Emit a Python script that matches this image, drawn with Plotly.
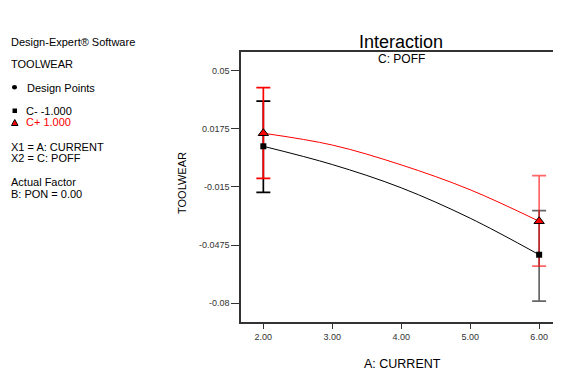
import plotly.graph_objects as go

# ---- data ----
current_curve = [2.0, 3.0, 4.0, 5.0, 6.0]
toolwear_c_minus = [0.0077, -0.0025, -0.0155, -0.0325, -0.0529]
toolwear_c_plus = [0.0150, 0.0084, -0.0027, -0.0166, -0.0342]

design_x = [2.0, 6.0]
design_c_minus = [0.0077, -0.0529]
design_c_plus = [0.0150, -0.0342]
err_minus_up = [0.0252, 0.0246]
err_minus_dn = [0.0258, 0.0259]
err_plus_up = [0.0255, 0.0255]
err_plus_dn = [0.0252, 0.0251]

y_ticks = [-0.08, -0.0475, -0.015, 0.0175, 0.05]
y_tick_labels = ["-0.08", "-0.0475", "-0.015", "0.0175", "0.05"]
x_ticks = [2, 3, 4, 5, 6]
x_tick_labels = ["2.00", "3.00", "4.00", "5.00", "6.00"]

# page body has an 8px margin; build the figure 8px smaller and shift coords
OFF = 8
W, H = 561 - OFF, 376 - OFF
L, R, T, B = 241 - OFF, 0, 52 - OFF, 62 - OFF
PW, PH = W - L - R, H - T - B
FONT = "Liberation Sans, Arial, sans-serif"


def px(x):
    return (x - OFF - L) / PW


def py(y):
    return (H - B - (y - OFF)) / PH


fig = go.Figure()

# error bars (drawn first)
for idx, alpha in [(0, 1.0), (1, 0.6)]:
    for vals, up, dn, rgb in [
        (design_c_minus, err_minus_up, err_minus_dn, "0,0,0"),
        (design_c_plus, err_plus_up, err_plus_dn, "255,0,0"),
    ]:
        fig.add_trace(go.Scatter(
            x=[design_x[idx]], y=[vals[idx]], mode="markers",
            marker=dict(size=1, color="rgba(0,0,0,0)"),
            error_y=dict(type="data", symmetric=False, array=[up[idx]],
                         arrayminus=[dn[idx]], color=f"rgba({rgb},{alpha})",
                         thickness=1.7, width=7),
            showlegend=False, hoverinfo="skip"))

# curves
fig.add_trace(go.Scatter(x=current_curve, y=toolwear_c_minus, mode="lines",
                         line=dict(color="#000000", width=1, shape="spline"),
                         showlegend=False))
fig.add_trace(go.Scatter(x=current_curve, y=toolwear_c_plus, mode="lines",
                         line=dict(color="#ff0000", width=1, shape="spline"),
                         showlegend=False))

# design point markers
fig.add_trace(go.Scatter(x=design_x, y=design_c_minus, mode="markers",
                         marker=dict(symbol="square", size=6, color="#000000"),
                         showlegend=False))
fig.add_trace(go.Scatter(x=design_x, y=design_c_plus, mode="markers",
                         marker=dict(symbol="triangle-up", size=9, color="#ff0000",
                                     line=dict(color="#000000", width=1)),
                         showlegend=False))

ann = []


def text(x, y, s, size=11, color="#000000", xanchor="left", angle=0):
    ann.append(dict(x=px(x), y=py(y), xref="paper", yref="paper", text=s,
                    showarrow=False, xanchor=xanchor, yanchor="middle",
                    textangle=angle,
                    font=dict(family=FONT, size=size, color=color)))


text(9, 42, "Design-Expert® Software")
text(9, 64, "TOOLWEAR")
text(25, 87.5, "Design Points")
text(24, 111, "C- -1.000")
text(24, 122.5, "C+ 1.000", color="#ff0000")
text(9, 146.5, "X1 = A: CURRENT")
text(9, 157.5, "X2 = C: POFF")
text(9, 181.5, "Actual Factor")
text(9, 193.5, "B: PON = 0.00")
text(401, 42, "Interaction", size=18, xanchor="center")
text(401, 59, "C: POFF", size=12, xanchor="center")
text(402, 364, "A: CURRENT", size=12.5, xanchor="center")
text(182, 183, "TOOLWEAR", size=11, xanchor="center", angle=-90)

shapes = [
    dict(type="circle", xref="paper", yref="paper",
         x0=px(12), x1=px(17), y0=py(89.5), y1=py(85),
         fillcolor="#000000", line=dict(width=0)),
    dict(type="rect", xref="paper", yref="paper",
         x0=px(12.5), x1=px(17), y0=py(113), y1=py(108.5),
         fillcolor="#000000", line=dict(width=0)),
    dict(type="path", xref="paper", yref="paper",
         path=f"M {px(11.5)} {py(125.5)} L {px(18)} {py(125.5)} L {px(14.75)} {py(119.5)} Z",
         fillcolor="#ff0000", line=dict(color="#000000", width=1)),
]

fig.update_layout(
    width=W, height=H,
    margin=dict(l=L, r=R, t=T, b=B, pad=0),
    paper_bgcolor="white", plot_bgcolor="white",
    font=dict(family=FONT, color="#000000"),
    annotations=ann, shapes=shapes, showlegend=False,
    xaxis=dict(range=[1.676, 6.317], tickvals=x_ticks, ticktext=x_tick_labels,
               ticks="outside", ticklen=5, tickwidth=1, tickcolor="#333333",
               showline=True, linecolor="#333333", linewidth=1.5, mirror=True,
               showgrid=False, zeroline=False,
               tickfont=dict(size=9, family=FONT, color="#333333")),
    yaxis=dict(range=[-0.0905, 0.0604], tickvals=y_ticks, ticktext=y_tick_labels,
               ticks="outside", ticklen=8, tickwidth=1, tickcolor="#333333",
               showline=True, linecolor="#333333", linewidth=1.5, mirror=False,
               showgrid=False, zeroline=False,
               tickfont=dict(size=9, family=FONT, color="#333333")),
)

fig.write_html("out.html")
